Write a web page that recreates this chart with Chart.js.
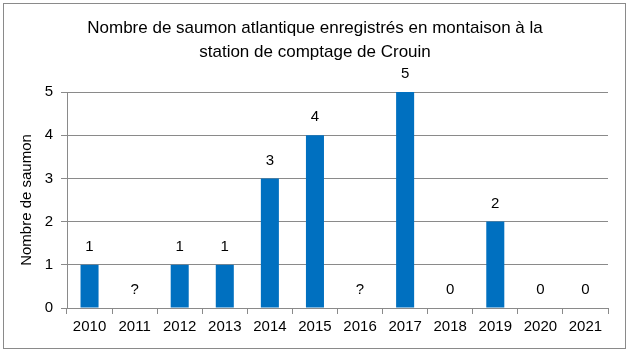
<!DOCTYPE html>
<html><head><meta charset="utf-8">
<script src="https://cdn.jsdelivr.net/npm/chart.js@4"></script>
<style>html,body{margin:0;padding:0;background:#fff}canvas{display:block}</style>
</head><body>
<canvas id="c" width="630" height="355"></canvas>
<script>
const categories = ['2010','2011','2012','2013','2014','2015','2016','2017','2018','2019','2020','2021'];
const values = [1, 0, 1, 1, 3, 4, 0, 5, 0, 2, 0, 0];
const valueLabels = ['1','?','1','1','3','4','?','5','0','2','0','0'];
const yTicks = [0,1,2,3,4,5];
const titleLines = ['Nombre de saumon atlantique enregistrés en montaison à la', 'station de comptage de Crouin'];
const yTitle = 'Nombre de saumon';

const FONT = "'Liberation Sans', Arial, sans-serif";

const frame = {
  id: 'frame',
  beforeDraw(chart) {
    const ctx = chart.ctx;
    ctx.save();
    ctx.fillStyle = '#fff';
    ctx.fillRect(0, 0, chart.width, chart.height);
    ctx.strokeStyle = '#8a8a8a';
    ctx.lineWidth = 1;
    ctx.strokeRect(3.5, 3.5, 622, 345);
    ctx.fillStyle = '#000';
    ctx.font = "17px " + FONT;
    ctx.textAlign = 'center';
    ctx.textBaseline = 'middle';
    ctx.fillText(titleLines[0], 315, 28);
    ctx.fillText(titleLines[1], 315, 52);
    ctx.restore();
  },
  afterDatasetsDraw(chart) {
    const ctx = chart.ctx;
    const meta = chart.getDatasetMeta(0);
    ctx.save();
    ctx.fillStyle = '#000';
    ctx.font = "15px " + FONT;
    ctx.textAlign = 'center';
    ctx.textBaseline = 'middle';
    meta.data.forEach((bar, i) => {
      ctx.fillText(valueLabels[i], bar.x, bar.y - 18);
    });
    ctx.restore();
  }
};

new Chart(document.getElementById('c'), {
  type: 'bar',
  data: {
    labels: categories,
    datasets: [{
      data: values,
      backgroundColor: '#0070C0',
      borderWidth: 0,
      barPercentage: 0.4,
      categoryPercentage: 1.0
    }]
  },
  options: {
    responsive: false,
    animation: false,
    devicePixelRatio: 1,
    layout: { padding: { left: 5, right: 22, top: 92, bottom: 7 } },
    plugins: { legend: { display: false }, tooltip: { enabled: false }, title: { display: false } },
    scales: {
      x: {
        grid: { offset: true, drawOnChartArea: false, drawTicks: true, tickLength: 6, color: '#8a8a8a' },
        border: { color: '#8a8a8a' },
        ticks: { color: '#000', font: { family: FONT, size: 15 }, padding: 4, maxRotation: 0, autoSkip: false },
        afterFit(s) { s.height = 40; }
      },
      y: {
        min: 0, max: 5,
        afterBuildTicks(s) { s.ticks = yTicks.map(v => ({ value: v })); },
        grid: { color: '#8a8a8a', drawTicks: true, tickLength: 6 },
        border: { color: '#8a8a8a' },
        ticks: { color: '#000', font: { family: FONT, size: 15 }, padding: 8 },
        title: { display: true, text: yTitle, color: '#000', font: { family: FONT, size: 15 }, padding: { top: 13, bottom: 0 } },
        afterFit(s) { s.width = 62; }
      }
    }
  },
  plugins: [frame]
});
</script>
</body></html>
